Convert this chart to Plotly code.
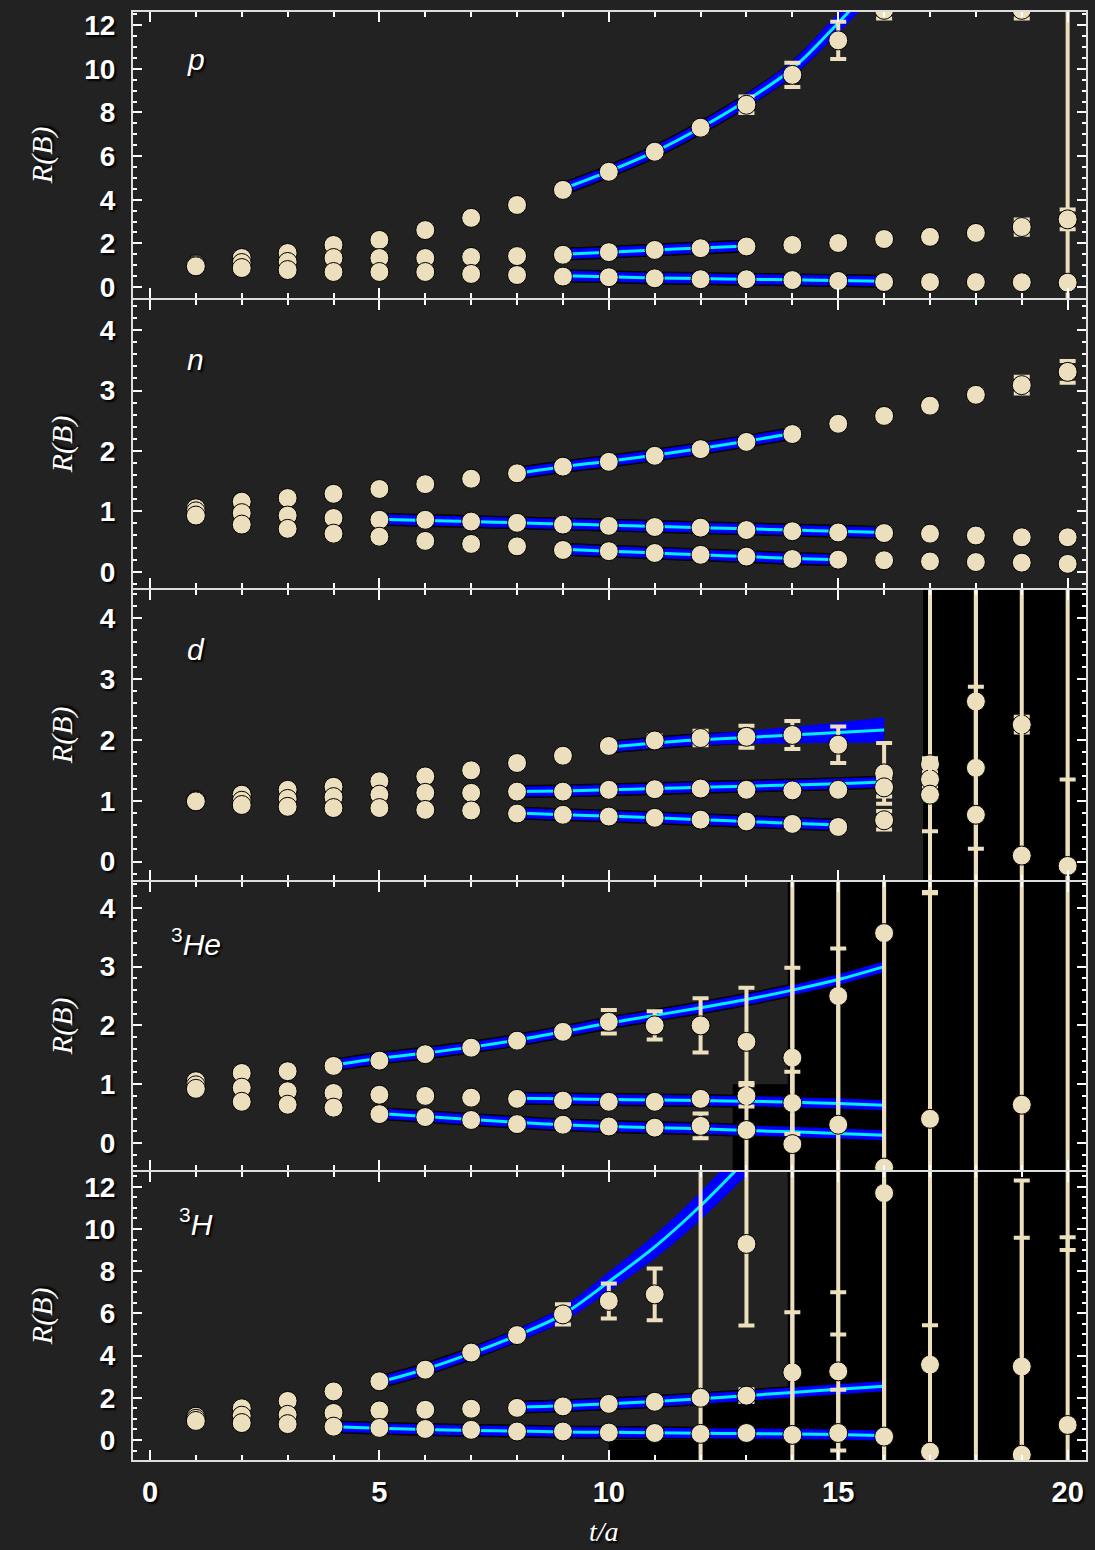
import plotly.graph_objects as go

T = list(range(1, 21))

# ---------------- panel p ----------------
p_a     = [1.05,1.33,1.56,1.93,2.16,2.61,3.17,3.76,4.45,5.28,6.2,7.3,8.35,9.72,11.3,12.7,None,None,12.7,14.0]
p_a_err = [0.02,0.03,0.03,0.04,0.05,0.06,0.07,0.09,0.1,0.12,0.15,0.18,0.38,0.55,0.85,0.4,None,None,0.4,16.0]
p_b     = [1.0,1.1,1.15,1.33,1.33,1.33,1.38,1.42,1.48,1.6,1.7,1.78,1.86,1.93,2.02,2.2,2.3,2.48,2.75,3.1]
p_b_err = [0.01,0.02,0.02,0.02,0.03,0.03,0.03,0.04,0.04,0.05,0.05,0.06,0.06,0.07,0.08,0.09,0.1,0.12,0.35,0.45]
p_c     = [0.95,0.87,0.78,0.69,0.69,0.69,0.6,0.55,0.48,0.45,0.4,0.36,0.36,0.32,0.28,0.23,0.23,0.23,0.22,0.2]
p_c_err = [0.01,0.01,0.01,0.01,0.01,0.01,0.01,0.01,0.01,0.02,0.02,0.02,0.02,0.02,0.02,0.03,0.03,0.03,0.03,0.04]
fit_p_top_t = [9,10,11,12,13,14,15,16]
fit_p_top   = [4.5,5.3,6.2,7.3,8.55,10.0,12.1,14.4]
fit_p_top_b = [0.1,0.12,0.15,0.2,0.25,0.3,0.4,0.5]
fit_p_mid_t = [9,10,11,12,13]
fit_p_mid   = [1.5,1.6,1.7,1.79,1.88]
fit_p_low_t = [9,10,11,12,13,14,15,16]
fit_p_low   = [0.52,0.47,0.42,0.39,0.36,0.33,0.3,0.27]

# ---------------- panel n ----------------
n_a     = [1.05,1.16,1.22,1.29,1.37,1.45,1.54,1.63,1.74,1.82,1.92,2.03,2.15,2.28,2.45,2.58,2.75,2.93,3.09,3.31]
n_a_err = [0.01,0.01,0.01,0.01,0.01,0.02,0.02,0.02,0.02,0.03,0.03,0.03,0.04,0.04,0.05,0.05,0.06,0.07,0.14,0.18]
n_b     = [1.0,0.97,0.93,0.89,0.86,0.86,0.83,0.81,0.78,0.76,0.74,0.73,0.69,0.67,0.65,0.64,0.63,0.6,0.57,0.57]
n_b_err = [0.01,0.01,0.01,0.01,0.01,0.01,0.01,0.01,0.01,0.01,0.01,0.01,0.01,0.01,0.01,0.01,0.01,0.02,0.02,0.02]
n_c     = [0.93,0.78,0.71,0.63,0.58,0.51,0.46,0.42,0.36,0.34,0.31,0.28,0.25,0.21,0.2,0.19,0.17,0.16,0.15,0.13]
n_c_err = [0.01,0.01,0.01,0.01,0.01,0.01,0.01,0.01,0.01,0.01,0.01,0.01,0.01,0.01,0.01,0.01,0.01,0.01,0.01,0.01]
fit_n_top_t = [8,9,10,11,12,13,14]
fit_n_top   = [1.63,1.74,1.83,1.93,2.04,2.16,2.29]
fit_n_mid_t = [5,6,7,8,9,10,11,12,13,14,15,16]
fit_n_mid   = [0.87,0.85,0.83,0.81,0.79,0.77,0.75,0.73,0.71,0.69,0.67,0.65]
fit_n_low_t = [9,10,11,12,13,14,15]
fit_n_low   = [0.37,0.34,0.31,0.28,0.25,0.22,0.2]

# ---------------- panel d ----------------
d_a     = [1.01,1.1,1.18,1.23,1.32,1.4,1.5,1.62,1.74,1.9,1.99,2.03,2.05,2.08,1.92,1.45,1.6,2.63,2.25,5.8]
d_a_err = [0.01,0.01,0.01,0.02,0.02,0.02,0.03,0.03,0.04,0.05,0.08,0.12,0.18,0.23,0.3,0.5,5.0,5.0,0.13,6.5]
d_b     = [1.0,1.0,1.03,1.06,1.1,1.13,1.13,1.15,1.15,1.18,1.19,1.2,1.18,1.17,1.18,1.22,1.35,1.54,None,-0.07]
d_b_err = [0.01,0.01,0.01,0.01,0.01,0.01,0.02,0.02,0.02,0.02,0.03,0.03,0.03,0.04,0.04,0.15,0.12,1.33,None,1.42]
d_c     = [0.99,0.93,0.9,0.88,0.88,0.85,0.84,0.79,0.77,0.74,0.72,0.69,0.66,0.62,0.57,0.68,1.1,0.77,0.1,None]
d_c_err = [0.01,0.01,0.01,0.01,0.01,0.01,0.01,0.01,0.01,0.01,0.02,0.02,0.02,0.03,0.05,0.15,0.6,5.0,6.0,None]
fit_d_top_t = [10,11,12,13,14,15,16]
fit_d_top   = [1.88,1.95,2.0,2.04,2.08,2.12,2.16]
fit_d_top_b = [0.04,0.05,0.07,0.09,0.12,0.15,0.19]
fit_d_mid_t = [8,9,10,11,12,13,14,15,16]
fit_d_mid   = [1.15,1.16,1.18,1.2,1.22,1.24,1.26,1.28,1.31]
fit_d_low_t = [8,9,10,11,12,13,14,15]
fit_d_low   = [0.8,0.77,0.75,0.72,0.69,0.66,0.63,0.6]

# ---------------- panel 3He ----------------
he_a     = [1.05,1.19,1.22,1.31,1.4,1.51,1.62,1.74,1.89,2.06,2.0,2.0,1.72,1.45,2.5,3.57,6.0,5.5,None,None]
he_a_err = [0.01,0.01,0.01,0.02,0.02,0.02,0.03,0.04,0.06,0.2,0.24,0.46,0.92,4.5,4.5,4.5,1.75,8.0,None,None]
he_b     = [0.98,0.94,0.88,0.85,0.82,0.8,0.77,0.75,0.72,0.7,0.7,0.75,0.8,0.68,None,None,0.41,None,0.65,None]
he_b_err = [0.01,0.01,0.01,0.01,0.01,0.01,0.02,0.02,0.02,0.03,0.03,0.04,0.18,0.53,None,None,3.86,None,5.0,None]
he_c     = [0.92,0.7,0.65,0.6,0.49,0.44,0.39,0.32,0.31,0.28,0.26,0.29,0.22,-0.02,0.31,-0.42,None,None,None,5.5]
he_c_err = [0.01,0.01,0.01,0.01,0.01,0.01,0.01,0.02,0.02,0.02,0.03,0.21,0.8,3.0,3.0,4.0,None,None,None,8.0]
fit_he_top_t = [4,5,6,7,8,9,10,11,12,13,14,15,16]
fit_he_top   = [1.32,1.44,1.53,1.63,1.75,1.89,2.04,2.17,2.3,2.44,2.6,2.78,3.0]
fit_he_mid_t = [8,9,10,11,12,13,14,15,16]
fit_he_mid   = [0.76,0.75,0.74,0.73,0.72,0.71,0.69,0.67,0.64]
fit_he_low_t = [5,6,7,8,9,10,11,12,13,14,15,16]
fit_he_low   = [0.5,0.45,0.4,0.35,0.31,0.28,0.26,0.24,0.21,0.19,0.16,0.13]

# ---------------- panel 3H ----------------
h_a     = [1.1,1.5,1.85,2.3,2.78,3.33,4.14,4.97,5.95,6.59,6.9,None,9.29,3.2,3.25,11.7,3.57,14.0,3.48,None]
h_a_err = [0.03,0.05,0.06,0.08,0.1,0.12,0.15,0.2,0.48,0.83,1.23,None,3.87,2.85,3.75,13.0,12.0,16.0,6.1,None]
h_b     = [1.0,1.15,1.19,1.28,1.4,1.43,1.48,1.52,1.59,1.71,1.81,2.0,2.1,None,0.33,None,None,None,None,15.0]
h_b_err = [0.02,0.02,0.03,0.03,0.03,0.04,0.04,0.05,0.06,0.07,0.08,12.0,0.3,None,2.05,None,None,None,None,6.0]
h_c     = [0.9,0.8,0.75,0.63,0.57,0.52,0.48,0.4,0.4,0.35,0.33,0.29,0.33,0.24,14.0,0.16,-0.56,None,-0.7,0.71]
h_c_err = [0.01,0.01,0.01,0.01,0.02,0.02,0.02,0.02,0.02,0.03,0.03,0.1,0.05,13.0,9.0,13.0,6.0,None,13.0,8.9]
fit_h_top_t = [5,6,7,8,9,10,11,12,13]
fit_h_top   = [2.75,3.35,4.1,4.95,5.95,7.5,9.15,11.1,13.3]
fit_h_top_b = [0.15,0.15,0.2,0.25,0.3,0.4,0.5,0.6,0.7]
fit_h_mid_t = [8,9,10,11,12,13,14,15,16]
fit_h_mid   = [1.55,1.62,1.72,1.82,1.95,2.1,2.25,2.4,2.55]
fit_h_low_t = [4,5,6,7,8,9,10,11,12,13,14,15,16]
fit_h_low   = [0.62,0.55,0.5,0.45,0.42,0.38,0.36,0.34,0.32,0.3,0.28,0.26,0.2]

# dark shaded (black) background regions per panel: (x0, x1, y0, y1) in data units
shade_d  = [(16.85, 21, -1, 6)]
shade_he = [(13.9, 21, -1, 6), (12.7, 13.9, -1, 1.0)]
shade_h  = [(13.9, 21, -2, 14), (12.0, 13.9, -2, 2.2), (10.0, 12.0, -2, 0.0)]

panels = [
    dict(label="<i>p</i>", series=[(p_a, p_a_err), (p_b, p_b_err), (p_c, p_c_err)],
         fits=[(fit_p_top_t, fit_p_top, fit_p_top_b), (fit_p_mid_t, fit_p_mid, None), (fit_p_low_t, fit_p_low, None)],
         yrange=[-0.5, 12.6], dtick=2, minor=0.5, dom=[0.8025, 1.0], shades=[], rbx=-0.0953, laby=0.9669),
    dict(label="<i>n</i>", series=[(n_a, n_a_err), (n_b, n_b_err), (n_c, n_c_err)],
         fits=[(fit_n_top_t, fit_n_top, None), (fit_n_mid_t, fit_n_mid, None), (fit_n_low_t, fit_n_low, None)],
         yrange=[-0.27, 4.5], dtick=1, minor=0.2, dom=[0.6022, 0.8011], shades=[], rbx=-0.0743, laby=0.7597),
    dict(label="<i>d</i>", series=[(d_a, d_a_err), (d_b, d_b_err), (d_c, d_c_err)],
         fits=[(fit_d_top_t, fit_d_top, fit_d_top_b), (fit_d_mid_t, fit_d_mid, None), (fit_d_low_t, fit_d_low, None)],
         yrange=[-0.3, 4.46], dtick=1, minor=0.2, dom=[0.4006, 0.6008], shades=shade_d, rbx=-0.0743, laby=0.5594),
    dict(label="<sup>3</sup><i>He</i>", series=[(he_a, he_a_err), (he_b, he_b_err), (he_c, he_c_err)],
         fits=[(fit_he_top_t, fit_he_top, None), (fit_he_mid_t, fit_he_mid, None), (fit_he_low_t, fit_he_low, None)],
         yrange=[-0.46, 4.44], dtick=1, minor=0.2, dom=[0.2003, 0.3992], shades=shade_he, rbx=-0.0743, laby=0.3577),
    dict(label="<sup>3</sup><i>H</i>", series=[(h_a, h_a_err), (h_b, h_b_err), (h_c, h_c_err)],
         fits=[(fit_h_top_t, fit_h_top, fit_h_top_b), (fit_h_mid_t, fit_h_mid, None), (fit_h_low_t, fit_h_low, None)],
         yrange=[-0.95, 12.7], dtick=2, minor=0.5, dom=[0.0, 0.1989], shades=shade_h, rbx=-0.0953, laby=0.1644),
]

BEIGE = "#ECDFBD"
BLUE = "#0000FF"
CYAN = "#00F0FF"
BG = "#222222"
AXC = "#DDDDDD"
SHADOW = "2px 2px 2px #000000"

fig = go.Figure()
layout_axes = {}
annotations = []
shapes = []

for i, pan in enumerate(panels, start=1):
    xa = "x" if i == 1 else f"x{i}"
    ya = "y" if i == 1 else f"y{i}"
    # fits
    for ft, fv, fb in pan["fits"]:
        fig.add_trace(go.Scatter(x=ft, y=fv, mode="lines", xaxis=xa, yaxis=ya,
                                 line=dict(color="#000000", width=13, shape="spline"), hoverinfo="skip"))
        if fb is not None:
            up = [v + b for v, b in zip(fv, fb)]
            lo = [v - b for v, b in zip(fv, fb)]
            fig.add_trace(go.Scatter(x=ft, y=up, mode="lines", xaxis=xa, yaxis=ya,
                                     line=dict(color=BLUE, width=2, shape="spline"), hoverinfo="skip"))
            fig.add_trace(go.Scatter(x=ft, y=lo, mode="lines", xaxis=xa, yaxis=ya, fill="tonexty",
                                     fillcolor=BLUE, line=dict(color=BLUE, width=2, shape="spline"), hoverinfo="skip"))
        fig.add_trace(go.Scatter(x=ft, y=fv, mode="lines", xaxis=xa, yaxis=ya,
                                 line=dict(color=BLUE, width=10, shape="spline"), hoverinfo="skip"))
        fig.add_trace(go.Scatter(x=ft, y=fv, mode="lines", xaxis=xa, yaxis=ya,
                                 line=dict(color=CYAN, width=3, shape="spline"), hoverinfo="skip"))
    # data points
    for vals, errs in pan["series"]:
        fig.add_trace(go.Scatter(
            x=T, y=vals, mode="markers", xaxis=xa, yaxis=ya,
            marker=dict(symbol="circle", size=19, color=BEIGE, line=dict(color="#000000", width=1)),
            error_y=dict(type="data", array=errs, visible=True, color=BEIGE, thickness=4, width=8),
        ))
    # shaded regions
    for x0, x1, y0, y1 in pan["shades"]:
        shapes.append(dict(type="rect", xref=xa, yref=ya, x0=x0, x1=x1, y0=y0, y1=y1,
                           fillcolor="#000000", line=dict(width=0), layer="below"))

    axname_x = "xaxis" if i == 1 else f"xaxis{i}"
    axname_y = "yaxis" if i == 1 else f"yaxis{i}"
    layout_axes[axname_x] = dict(
        domain=[0, 1], anchor=ya, range=[-0.37, 20.4], tick0=0, dtick=5,
        ticks="inside", ticklen=10, tickwidth=2, tickcolor="white",
        minor=dict(dtick=1, ticks="inside", ticklen=5, tickwidth=1.5, tickcolor="white"),
        showline=True, linecolor=AXC, linewidth=2, mirror="allticks",
        showgrid=False, zeroline=False, showticklabels=(i == 5),
        tickfont=dict(family="Liberation Sans", size=29, color="white", weight="bold", shadow=SHADOW),
        ticklabelstandoff=5,
    )
    if i != 5:
        layout_axes[axname_x]["matches"] = "x5"
    layout_axes[axname_y] = dict(
        domain=pan["dom"], anchor=xa, range=pan["yrange"], tick0=0, dtick=pan["dtick"],
        ticks="inside", ticklen=9, tickwidth=2, tickcolor="white",
        minor=dict(dtick=pan["minor"], ticks="inside", ticklen=4, tickwidth=1.5, tickcolor="white"),
        showline=True, linecolor=AXC, linewidth=2, mirror="allticks",
        showgrid=False, zeroline=False,
        tickfont=dict(family="Liberation Sans", size=28, color="white", weight="bold", shadow=SHADOW),
        ticklabelstandoff=10,
    )
    mid = (pan["dom"][0] + pan["dom"][1]) / 2
    annotations.append(dict(text="R(B)", xref="paper", yref="paper", x=pan["rbx"], y=mid,
                            textangle=-90, showarrow=False, xanchor="center", yanchor="middle",
                            font=dict(family="Liberation Serif", size=30, color="white", style="italic", shadow=SHADOW)))
    annotations.append(dict(text=pan["label"], xref="paper", yref="paper", x=0.066, y=pan["laby"],
                            showarrow=False, xanchor="center", yanchor="middle",
                            font=dict(family="Liberation Sans", size=30, color="white", shadow=SHADOW)))

annotations.append(dict(text="t/a", xref="paper", yref="paper", x=0.494, y=-0.0495,
                        showarrow=False, xanchor="center", yanchor="middle",
                        font=dict(family="Liberation Serif", size=28, color="white", style="italic", shadow=SHADOW)))

fig.update_layout(
    width=1095, height=1550,
    margin=dict(l=133, r=7, t=12, b=90),
    paper_bgcolor=BG, plot_bgcolor=BG,
    showlegend=False,
    annotations=annotations, shapes=shapes,
    **layout_axes,
)

fig.write_html(
    "out.html",
    config={"displayModeBar": False},
    post_script="document.body.style.margin='0';document.body.style.background='#222222';",
)
